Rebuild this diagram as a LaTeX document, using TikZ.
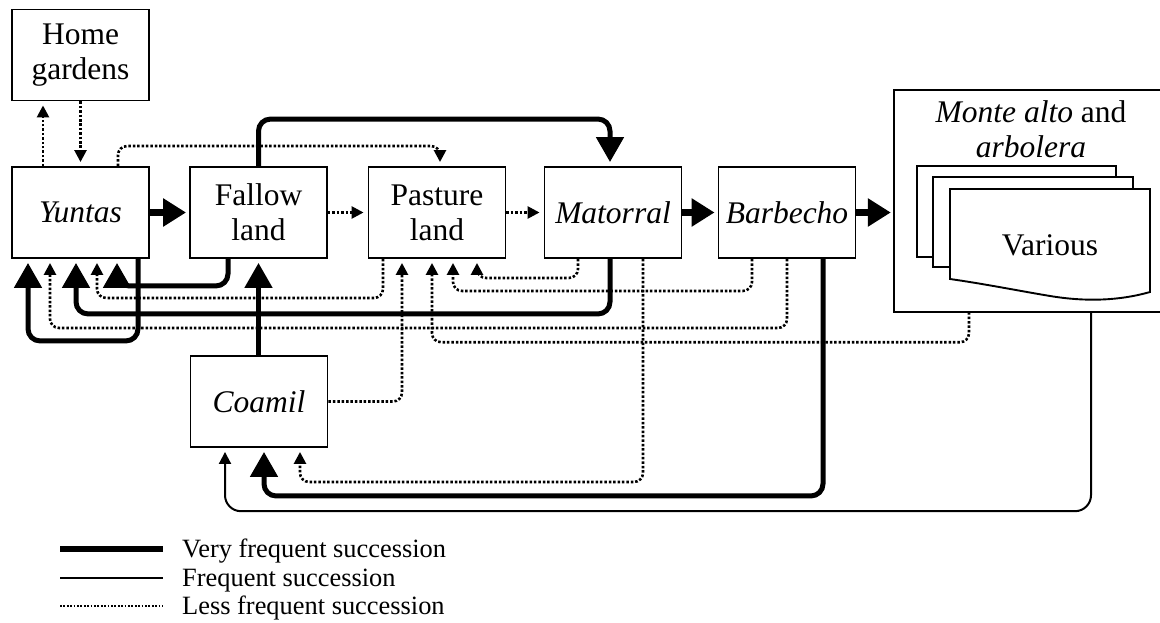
\documentclass[tikz,border=0pt]{standalone}
\usepackage{fontspec}
\setmainfont{Liberation Serif}
\usetikzlibrary{arrows.meta}
\begin{document}
\begin{tikzpicture}[x=1pt,y=-1pt,
  box/.style={draw, line width=1.9pt, minimum width=137pt, minimum height=91pt,
    inner sep=0pt, align=center, font=\fontsize{31.5}{35}\selectfont},
  label/.style={inner sep=0pt, align=center, font=\fontsize{31.5}{35}\selectfont},
  docline/.style={line width=1.9pt, fill=white, line join=miter},
  vf/.style={line width=5pt, rounded corners=12pt,
    -{Triangle[length=25pt,width=27pt]}, shorten >=4pt},
  vfrow/.style={line width=7pt, -{Triangle[length=23pt,width=27pt]}, shorten >=3pt},
  fr/.style={line width=2pt, rounded corners=16pt,
    -{Triangle[length=12pt,width=12pt]}, shorten >=4pt},
  lf/.style={line width=2.6pt, dash pattern=on 2.5pt off 1.9pt, rounded corners=9pt,
    -{Triangle[length=12pt,width=12pt]}, shorten >=4pt},
  legtext/.style={anchor=base west, inner sep=0pt, font=\fontsize{26.4}{28}\selectfont}]

\useasboundingbox (0,0) rectangle (1160,623);

% land-use units
\node[box] (home) at (80.5,55)    {Home\\gardens};
\node[box] (yun)  at (80.5,212.5) {\textit{Yuntas}};
\node[box] (fal)  at (258.5,212.5) {Fallow\\land};
\node[box] (pas)  at (437,212.5)  {Pasture\\land};
\node[box] (mat)  at (613,212.5)  {\textit{Matorral}};
\node[box] (bar)  at (787,212.5)  {\textit{Barbecho}};
\node[box] (coa)  at (259,401.5)  {\textit{Coamil}};

% forest unit: open on the right edge
\node[minimum width=266pt, minimum height=222pt, inner sep=0pt] (monte) at (1027,201) {};
\draw[line width=1.9pt] (monte.north east) -- (monte.north west)
  -- (monte.south west) -- (monte.south east);
\node[label] (montelabel) at (1031,129) {\textit{Monte alto} and\\\textit{arbolera}};

% stacked document sheets
\draw[docline] (917,166) rectangle (1116,257);
\draw[docline] (933,177) rectangle (1133,267);
\draw[docline] (950,189) -- (1150,189) -- (1150,292)
  .. controls (1115,302) and (1080,301) .. (1050,296)
  .. controls (1020,291) and (985,284) .. (950,279) -- cycle;
\node[label] (various) at (1050,245) {Various};

% main sequence
\draw[vfrow] (yun) -- (fal);
\draw[lf] (fal) -- (pas);
\draw[lf] (pas) -- (mat);
\draw[vfrow] (mat) -- (bar);
\draw[vfrow] (bar.east) -- (bar.east -| monte.west);

% home gardens exchange
\draw[lf] ([xshift=-37.5pt]yun.north) -- ([xshift=-37.5pt]home.south);
\draw[lf] (home.south) -- (yun.north);

% links above the row
\draw[lf] ([xshift=37.5pt]yun.north) -- ++(0,-20) -| ([xshift=3pt]pas.north);
\draw[vf] (fal.north) -- ++(0,-47) -| ([xshift=-3pt]mat.north);

% returns to Yuntas
\draw[vf] ([xshift=57.5pt]yun.south) -- ++(0,82) -| ([xshift=-52.5pt]yun.south);
\draw[vf] ([xshift=-30.5pt]fal.south) -- ++(0,27) -| ([xshift=36.5pt]yun.south);
\draw[lf] ([xshift=-54pt]pas.south) -- ++(0,39) -| ([xshift=16.5pt]yun.south);
\draw[vf] ([xshift=-3pt]mat.south) -- ++(0,55) -| ([xshift=-4.5pt]yun.south);
\draw[lf] (bar.south) -- ++(0,69) -| ([xshift=-30.5pt]yun.south);

% returns to pasture land
\draw[lf] (coa.east) -| ([xshift=-35pt]pas.south);
\draw[lf] ([xshift=-58pt]monte.south) -- ++(0,30) -| ([xshift=-5pt]pas.south);
\draw[lf] ([xshift=-35pt]bar.south) -- ++(0,32) -| ([xshift=16pt]pas.south);
\draw[lf] ([xshift=-35pt]mat.south) -- ++(0,19) -| ([xshift=40pt]pas.south);

% Coamil to fallow land
\draw[vf] (coa.north -| fal.south) -- (fal.south);

% returns to Coamil
\draw[lf] ([xshift=30pt]mat.south) -- ++(0,223) -| ([xshift=41pt]coa.south);
\draw[vf] ([xshift=36pt]bar.south) -- ++(0,237) -| ([xshift=5pt]coa.south);
\draw[fr] ([xshift=64pt]monte.south) -- ++(0,199) -| ([xshift=-34pt]coa.south);

% legend
\coordinate (k1a) at (60,549);  \coordinate (k1b) at (163,549);
\coordinate (k2a) at (60,578);  \coordinate (k2b) at (163,578);
\coordinate (k3a) at (60,606);  \coordinate (k3b) at (163,606);
\draw[line width=6pt] (k1a) -- (k1b);
\draw[line width=2pt] (k2a) -- (k2b);
\draw[line width=2.2pt, dash pattern=on 1.8pt off 1.6pt] (k3a) -- (k3b);
\node[legtext] (lg1) at (182,557) {Very frequent succession};
\node[legtext] (lg2) at (182,586) {Frequent succession};
\node[legtext] (lg3) at (182,614) {Less frequent succession};
\end{tikzpicture}
\end{document}
